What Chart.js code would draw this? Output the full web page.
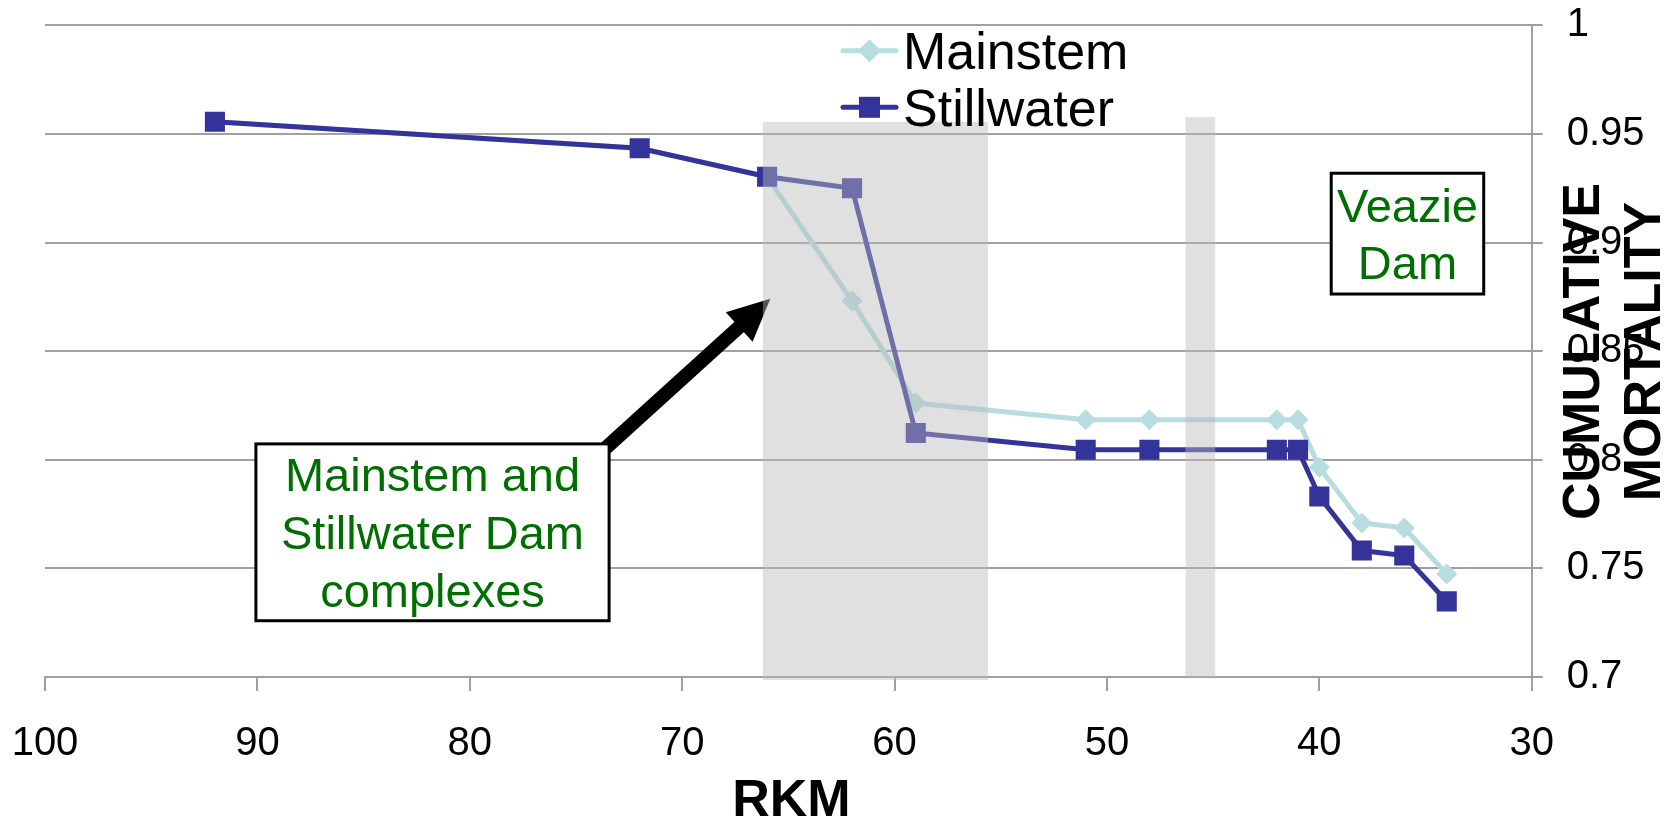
<!DOCTYPE html>
<html>
<head>
<meta charset="utf-8">
<script src="https://cdn.jsdelivr.net/npm/chart.js@4.4.0/dist/chart.umd.min.js"></script>
<style>
  html, body { margin: 0; padding: 0; background: #fff; }
  canvas { display: block; }
</style>
</head>
<body>
<canvas id="mortalityChart" width="1675" height="818"></canvas>
<script>
// river km of each detection site
const rkm = [92, 72, 66, 62, 59, 51, 48, 42, 41, 40, 38, 36, 34];
const mainstem = [0.9556, 0.9434, 0.9303, 0.8731, 0.8261, 0.8184, 0.8184, 0.8184, 0.8184, 0.7966, 0.7709, 0.7686, 0.7474];
const stillwater = [0.9556, 0.9434, 0.9303, 0.9250, 0.8123, 0.8046, 0.8046, 0.8046, 0.8046, 0.7831, 0.7582, 0.7559, 0.7348];

const xTicks = [100, 90, 80, 70, 60, 50, 40, 30];
const yTicks = [0.7, 0.75, 0.8, 0.85, 0.9, 0.95, 1];

// shaded dam zones (rkm from / to, top value)
const zoneFrom = [66.2, 46.3];
const zoneTo = [55.6, 44.9];
const zoneTop = [0.9555, 0.9577];

// arrow from the note box to the dam complex
const arrowFrom = [74.74, 0.7953];
const arrowTo = [65.85, 0.8741];

const notes = [
  { lines: ['Veazie', 'Dam'], x1: 39.44, x2: 32.26, y1: 0.9319, y2: 0.8763, gap: 57.5 },
  { lines: ['Mainstem and', 'Stillwater Dam', 'complexes'], x1: 90.07, x2: 73.44, y1: 0.8073, y2: 0.7259, gap: 58 }
];

const FONT = '"Liberation Sans", Arial, Helvetica, sans-serif';
const GRID = '#a0a0a0';
const GREEN = '#006e00';
const MAIN_COLOR = '#b7dde1';
const STILL_COLOR = '#333399';

Chart.defaults.font.family = FONT;
Chart.defaults.color = '#000';

function drawArrow(ctx, x0, y0, x1, y1) {
  const ang = Math.atan2(y1 - y0, x1 - x0);
  const headLen = 42, headHalf = 20;
  const bx = x1 - headLen * Math.cos(ang);
  const by = y1 - headLen * Math.sin(ang);
  ctx.save();
  ctx.strokeStyle = '#000';
  ctx.lineWidth = 14;
  ctx.beginPath();
  ctx.moveTo(x0, y0);
  ctx.lineTo(bx + 2 * Math.cos(ang), by + 2 * Math.sin(ang));
  ctx.stroke();
  ctx.fillStyle = '#000';
  ctx.beginPath();
  ctx.moveTo(x1, y1);
  ctx.lineTo(bx + headHalf * Math.sin(ang), by - headHalf * Math.cos(ang));
  ctx.lineTo(bx - headHalf * Math.sin(ang), by + headHalf * Math.cos(ang));
  ctx.closePath();
  ctx.fill();
  ctx.restore();
}

function drawNote(ctx, x1, y1, x2, y2, lines, gap) {
  const left = Math.min(x1, x2), top = Math.min(y1, y2);
  const w = Math.abs(x2 - x1), h = Math.abs(y2 - y1);
  ctx.save();
  ctx.fillStyle = '#fff';
  ctx.fillRect(left, top, w, h);
  ctx.strokeStyle = '#000';
  ctx.lineWidth = 3;
  ctx.strokeRect(left, top, w, h);
  ctx.fillStyle = GREEN;
  ctx.font = '47px ' + FONT;
  ctx.textAlign = 'center';
  ctx.textBaseline = 'alphabetic';
  const cx = left + w / 2, cy = top + h / 2, cap = 0.716 * 47;
  lines.forEach((t, i) => {
    const c = cy + (i - (lines.length - 1) / 2) * gap;
    ctx.fillText(t, cx, c + cap / 2);
  });
  ctx.restore();
}

function drawMarker(ctx, style, x, y, size, color) {
  ctx.fillStyle = color;
  ctx.beginPath();
  if (style === 'rect') {
    ctx.rect(x - size / 2, y - size / 2, size, size);
  } else {
    ctx.moveTo(x - size / 2, y);
    ctx.lineTo(x, y - size / 2);
    ctx.lineTo(x + size / 2, y);
    ctx.lineTo(x, y + size / 2);
    ctx.closePath();
  }
  ctx.fill();
}

const overlays = {
  id: 'overlays',
  afterDatasetsDraw(chart) {
    const ctx = chart.ctx;
    const xs = chart.scales.x, ys = chart.scales.y;
    const px = v => xs.getPixelForValue(v);
    const py = v => ys.getPixelForValue(v);

    drawArrow(ctx, px(arrowFrom[0]), py(arrowFrom[1]), px(arrowTo[0]), py(arrowTo[1]));

    // dam zones sit over the lines, semi transparent
    ctx.save();
    ctx.fillStyle = 'rgba(186,186,186,0.45)';
    zoneFrom.forEach((f, i) => {
      const a = px(f), b = px(zoneTo[i]);
      const t = py(zoneTop[i]), bot = py(0.7) + (i === 0 ? 3 : 0);
      ctx.fillRect(Math.min(a, b), t, Math.abs(b - a), bot - t);
    });
    ctx.restore();

    notes.forEach(n => drawNote(ctx, px(n.x1), py(n.y1), px(n.x2), py(n.y2), n.lines, n.gap));

    // legend
    ctx.save();
    const rows = [50.7, 107.3];
    chart.data.datasets.forEach((ds, i) => {
      const y = rows[i];
      ctx.strokeStyle = ds.borderColor;
      ctx.lineWidth = 5;
      ctx.lineCap = 'round';
      ctx.beginPath();
      ctx.moveTo(843, y);
      ctx.lineTo(896, y);
      ctx.stroke();
      drawMarker(ctx, ds.pointStyle, 869.5, y, ds.pointStyle === 'rect' ? 21 : 23, ds.borderColor);
      ctx.fillStyle = '#000';
      ctx.font = '52px ' + FONT;
      ctx.textAlign = 'left';
      ctx.textBaseline = 'alphabetic';
      ctx.fillText(ds.label, 903, y + 18.5);
    });
    ctx.restore();

    // axis titles
    ctx.save();
    ctx.fillStyle = '#000';
    ctx.font = 'bold 52px ' + FONT;
    ctx.textAlign = 'center';
    ctx.textBaseline = 'alphabetic';
    ctx.fillText('RKM', (chart.chartArea.left + chart.chartArea.right) / 2 + 3, 816);
    const titleLines = ['CUMULATIVE', 'MORTALITY'];
    const baseX = [1598.5, 1660];
    titleLines.forEach((t, i) => {
      ctx.save();
      ctx.translate(baseX[i], 351.5);
      ctx.rotate(-Math.PI / 2);
      ctx.fillText(t, 0, 0);
      ctx.restore();
    });
    ctx.restore();
  }
};

new Chart(document.getElementById('mortalityChart'), {
  type: 'line',
  data: {
    datasets: [
      {
        label: 'Mainstem',
        data: rkm.map((x, i) => ({ x: x, y: mainstem[i] })),
        borderColor: MAIN_COLOR,
        backgroundColor: MAIN_COLOR,
        borderWidth: 5,
        pointStyle: 'rectRot',
        pointRadius: 10.5,
        pointBackgroundColor: MAIN_COLOR,
        pointBorderWidth: 0,
        order: 1
      },
      {
        label: 'Stillwater',
        data: rkm.map((x, i) => ({ x: x, y: stillwater[i] })),
        borderColor: STILL_COLOR,
        backgroundColor: STILL_COLOR,
        borderWidth: 5,
        pointStyle: 'rect',
        pointRadius: 14.2,
        pointBackgroundColor: STILL_COLOR,
        pointBorderWidth: 0,
        order: 0
      }
    ]
  },
  options: {
    responsive: false,
    animation: false,
    layout: { padding: { left: 45, top: 25.3, right: 0, bottom: 0 } },
    plugins: {
      legend: { display: false },
      tooltip: { enabled: false }
    },
    scales: {
      x: {
        type: 'linear',
        reverse: true,
        min: 30,
        max: 100,
        afterFit: scale => {
          scale.height = 141;
          scale.paddingLeft = 0;
          scale.paddingRight = 0;
        },
        afterBuildTicks: scale => { scale.ticks = xTicks.map(v => ({ value: v })); },
        grid: { drawOnChartArea: false, drawTicks: true, tickLength: 14, color: GRID, lineWidth: 2 },
        border: { color: GRID, width: 2 },
        ticks: {
          font: { size: 40 },
          padding: 28.5,
          maxRotation: 0,
          callback: v => String(v)
        }
      },
      y: {
        position: 'right',
        min: 0.7,
        max: 1,
        afterFit: scale => {
          scale.width = 143.3;
          scale.paddingTop = 0;
          scale.paddingBottom = 0;
        },
        afterBuildTicks: scale => { scale.ticks = yTicks.map(v => ({ value: v })); },
        grid: { color: GRID, lineWidth: 2, tickLength: 11 },
        border: { color: GRID, width: 2 },
        ticks: {
          font: { size: 40 },
          padding: 24,
          callback: v => String(Math.round(v * 100) / 100)
        }
      }
    }
  },
  plugins: [overlays]
});
</script>
</body>
</html>
